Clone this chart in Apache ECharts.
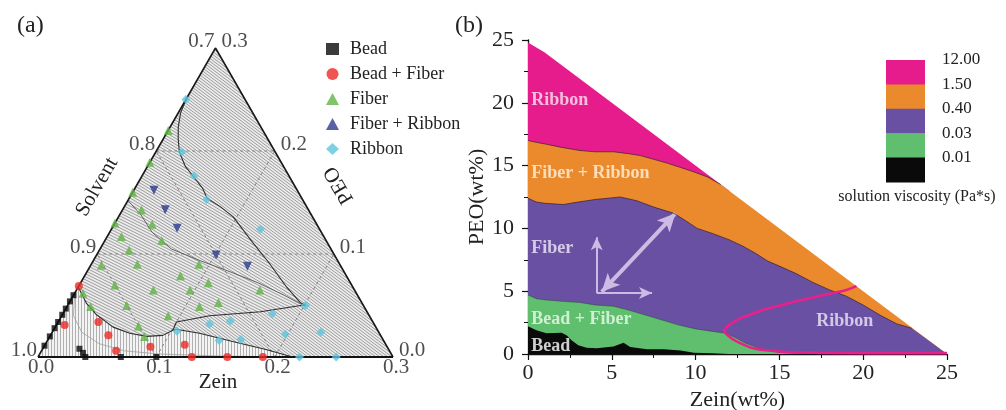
<!DOCTYPE html>
<html>
<head>
<meta charset="utf-8">
<script src="https://cdn.jsdelivr.net/npm/echarts@6/dist/echarts.min.js"></script>
<style>
  html, body { margin: 0; padding: 0; background: #fff; }
  #chart { width: 1006px; height: 410px; }
</style>
</head>
<body>
<div id="chart"></div>
<script>
// ===== (a) Ternary phase diagram: every point is [Zein, PEO] mass fraction (Solvent = 1 - Zein - PEO)
const bead = [
  [0, 0.011], [0, 0.020], [0, 0.028], [0, 0.034], [0, 0.041], [0, 0.047], [0, 0.054], [0, 0.060],
  [0.031, 0.008], [0.036, 0.004], [0.040, 0], [0.070, 0], [0.100, 0]
];
const beadFiber = [
  [0, 0.069], [0.007, 0.031], [0.034, 0.034], [0.049, 0.021], [0.063, 0.006],
  [0.090, 0.010], [0.118, 0.012], [0.130, 0], [0.160, 0], [0.190, 0]
];
const fiber = [
  [0, 0.220], [0, 0.189], [0, 0.160], [0, 0.130], [0.016, 0.143], [0.032, 0.129], [0.012, 0.117],
  [0.048, 0.113], [0.025, 0.104], [0.009, 0.089], [0.039, 0.090], [0.007, 0.062], [0.030, 0.070],
  [0.065, 0.065], [0.081, 0.079], [0.091, 0.090], [0.096, 0.065], [0.108, 0.072], [0.050, 0.050],
  [0.090, 0.040], [0.112, 0.049], [0.126, 0.053], [0.070, 0.030], [0.080, 0.020], [0.155, 0.065],
  [0.020, 0.049]
];
const fiberRibbon = [
  [0.017, 0.162], [0.036, 0.143], [0.055, 0.125], [0.101, 0.099], [0.133, 0.088]
];
const ribbon = [
  [0, 0.250], [0.022, 0.199], [0.044, 0.176], [0.066, 0.153], [0.126, 0.124], [0.201, 0.050],
  [0.177, 0.042], [0.145, 0.035], [0.129, 0.032], [0.105, 0.025], [0.145, 0.016], [0.163, 0.017],
  [0.198, 0.022], [0.227, 0.024], [0.221, 0], [0.252, 0]
];

// Phase boundaries in [Zein, PEO]
const ribbonEdge = [
  [0, 0.251], [0.002, 0.237], [0.007, 0.223], [0.013, 0.211], [0.020, 0.199], [0.032, 0.185],
  [0.044, 0.175], [0.057, 0.164], [0.066, 0.154], [0.081, 0.146], [0.097, 0.136], [0.126, 0.111],
  [0.150, 0.091], [0.176, 0.068], [0.195, 0.053], [0.201, 0.050]
];
const fiberRibbonEdge = [
  [0, 0.152], [0.018, 0.138], [0.036, 0.121], [0.060, 0.105], [0.089, 0.094], [0.123, 0.082],
  [0.150, 0.072], [0.178, 0.060], [0.195, 0.052], [0.201, 0.050]
];
const fiberLowerEdge = [
  [0, 0.068], [0.015, 0.052], [0.029, 0.041], [0.049, 0.029], [0.066, 0.023], [0.082, 0.020],
  [0.095, 0.021], [0.101, 0.026]
];
const wedgeUpper = [
  [0.101, 0.026], [0.100, 0.034], [0.125, 0.040], [0.166, 0.044], [0.197, 0.050], [0.201, 0.050]
];
const wedgeLower = [
  [0.101, 0.026], [0.103, 0.027], [0.125, 0.023], [0.157, 0.015], [0.190, 0.007], [0.215, 0]
];
const beadEdge = [
  [0, 0.062], [0.010, 0.040], [0.025, 0.024], [0.045, 0.013], [0.070, 0.006], [0.100, 0.003],
  [0.150, 0.001], [0.210, 0]
];

const legendNames = ['Bead', 'Bead + Fiber', 'Fiber', 'Fiber + Ribbon', 'Ribbon'];
const ternaryTicks = [0, 0.1, 0.2, 0.3];
const zeinTickText = ['0.0', '0.1', '0.2', '0.3'];
const solventTickText = ['1.0', '0.9', '0.8', '0.7'];
const peoTickText = ['0.0', '0.1', '0.2', '0.3'];

// ===== (b) Processing map: upper boundary [Zein wt%, PEO wt%] of each viscosity band
const ribbonTop = [[0, 24.8], [1, 24.0], [12, 13.0]];
const fiberRibbonTop = [
  [0, 17.0], [0.5, 16.85], [1.1, 16.7], [2, 16.45], [3.1, 16.2], [4, 16.1], [5.1, 16.1], [6, 15.95],
  [6.7, 15.8], [7.5, 15.5], [8.3, 15.2], [9.1, 14.85], [9.9, 14.5], [10.7, 14.1], [11.5, 13.5]
];
const fiberTop = [
  [0, 12.4], [0.5, 12.1], [1, 12.0], [2.1, 11.9], [3, 12.1], [4, 12.3], [5.5, 12.5], [6.5, 12.2],
  [7.5, 11.7], [8.7, 11.2], [9.3, 10.7], [10.1, 10.0], [11, 9.6], [12, 9.1], [12.8, 8.6], [13.6, 8.0],
  [14.3, 7.4], [15, 7.0], [16, 6.4], [17, 5.7], [18, 5.1], [19, 4.6], [20, 3.9], [21, 3.1], [22, 2.4],
  [22.9, 2.05]
];
const beadFiberTop = [
  [0, 4.7], [0.5, 4.4], [1.1, 4.3], [2, 4.2], [3.1, 4.1], [4, 3.9], [5.1, 3.8], [6, 3.5], [7, 3.1],
  [8, 2.7], [9, 2.3], [10, 2.0], [11, 1.8], [11.8, 1.65], [12.3, 1.35], [13, 0.85], [14, 0.35],
  [15, 0.12], [16, 0.05], [17, 0]
];
const beadTop = [
  [0, 2.2], [0.5, 1.9], [1.1, 1.65], [2, 1.7], [2.3, 1.5], [2.6, 1.1], [3, 0.7], [3.5, 0.5],
  [4.1, 0.45], [5.1, 0.6], [5.7, 0.9], [6.1, 0.55], [7.1, 0.37], [8.1, 0.37], [9.1, 0.27],
  [9.9, 0.1], [11, 0.05], [12, 0]
];
// composition limit: Zein + PEO = 25 wt%
const limitEnd = [25, 0];
const ribbonZone = [
  [19.6, 5.4], [19, 5.1], [18, 4.8], [17, 4.5], [16, 4.2], [15, 3.85], [14, 3.5], [13.2, 3.1],
  [12.6, 2.8], [12, 2.3], [11.7, 1.85], [12, 1.4], [12.45, 1.0], [13.45, 0.45], [15, 0.2],
  [17, 0.1], [20, 0.07], [25, 0.07]
];
// arrows: [start, end, double-headed]
const arrowsB = [
  [[4.1, 4.85], [4.1, 9.3], false],
  [[4.1, 4.85], [7.4, 4.85], false],
  [[4.4, 4.95], [8.8, 11.2], true]
];
const regionLabels = [
  [0.2, 20.2, 'Ribbon', '#fbe6f1'],
  [0.2, 14.4, 'Fiber + Ribbon', '#fff1de'],
  [0.2, 8.4, 'Fiber', '#efe8fb'],
  [0.2, 2.76, 'Bead + Fiber', '#eefbee'],
  [0.2, 0.6, 'Bead', '#ffffff'],
  [17.2, 2.6, 'Ribbon', '#efe6fa']
];
const viscosityLevels = ['12.00', '1.50', '0.40', '0.03', '0.01'];
const bandColors = ['#e61c8c', '#ea8a2c', '#6a50a2', '#5fbf6f', '#0a0a0a'];

// ----------------------------------------------------------------------------
const FONT = '"Liberation Serif", "Times New Roman", serif';

// Ternary [Zein, PEO] -> plane [Zein + PEO/2, PEO]; the grid is sized as an equilateral triangle
const toXY = (q) => [q[0] + q[1] / 2, q[1]];

function hatch(w, h, bg, fg, vertical) {
  const c = document.createElement('canvas');
  c.width = w; c.height = h;
  const g = c.getContext('2d');
  g.fillStyle = bg; g.fillRect(0, 0, w, h);
  g.strokeStyle = fg; g.lineWidth = 1;
  g.beginPath();
  if (vertical) {
    g.moveTo(0.5, 0); g.lineTo(0.5, h);
  } else {
    for (let k = -2; k <= 2; k++) {
      g.moveTo(-w, k * h - h);
      g.lineTo(2 * w, k * h + 2 * h);
    }
  }
  g.stroke();
  return { image: c, repeat: 'repeat' };
}

const patFiber = hatch(6, 3, '#ececec', '#9c9c9c', false);
const patRibbon = hatch(4, 3, '#ececec', '#9c9c9c', false);
const patFR = hatch(5, 3, '#ececec', '#9c9c9c', false);
const patBead = hatch(3, 1, '#f4f4f4', '#b0b0b0', true);

const BL = [0, 0], BR = [0.3, 0], TOP = [0, 0.3];
const rev = (a) => a.slice().reverse();
const regions = [
  { pts: [BL, BR, TOP], fill: patFiber },
  {
    pts: [ribbonEdge[0], TOP, BR].concat(rev(wedgeLower).slice(0, -1), wedgeUpper.slice(1), rev(ribbonEdge)),
    fill: patRibbon
  },
  { pts: [fiberRibbonEdge[0], ribbonEdge[0]].concat(ribbonEdge, rev(fiberRibbonEdge)), fill: patFR },
  { pts: [BL].concat(fiberLowerEdge, wedgeLower.slice(1), [BL]), fill: patBead }
];

const series = [];

series.push({
  type: 'custom',
  coordinateSystem: 'cartesian2d',
  xAxisIndex: 0, yAxisIndex: 0,
  silent: true, z: 1,
  data: regions.map(() => [0, 0]),
  renderItem: (params, api) => {
    const r = regions[params.dataIndex];
    return {
      type: 'polygon',
      shape: { points: r.pts.map((q) => api.coord(toXY(q))) },
      style: { fill: r.fill, stroke: null }
    };
  }
});

function tline(pts, style, z) {
  series.push({
    type: 'line', xAxisIndex: 0, yAxisIndex: 0, silent: true, z: z,
    data: pts.map(toXY), showSymbol: false, symbol: 'none',
    lineStyle: style
  });
}

// dashed composition grid
const dash = { color: '#6f6f6f', width: 0.8, type: [3, 3] };
[0.1, 0.2].forEach((v) => {
  tline([[0, v], [0.3 - v, v]], dash, 2);      // PEO constant
  tline([[v, 0], [v, 0.3 - v]], dash, 2);      // Zein constant
  tline([[v, 0], [0, v]], dash, 2);            // Solvent constant
});

// phase boundaries
const edgeStyle = { color: '#2e2e2e', width: 1.1 };
tline(ribbonEdge, edgeStyle, 3);
tline(fiberRibbonEdge, { color: '#555', width: 0.9 }, 3);
tline(fiberLowerEdge, edgeStyle, 3);
tline(wedgeUpper, edgeStyle, 3);
tline(wedgeLower, edgeStyle, 3);
tline(beadEdge, { color: '#a0a0a0', width: 0.8 }, 3);

// frame
tline([BL, TOP, BR], { color: '#1a1a1a', width: 1.6 }, 4);
tline([BL, BR], { color: '#111', width: 2.2 }, 4);

// measured compositions
const markerDefs = [
  { name: 'Bead', data: bead, symbol: 'rect', size: 6, color: '#0a0a0a' },
  { name: 'Bead + Fiber', data: beadFiber, symbol: 'circle', size: 8, color: '#ec2b26' },
  { name: 'Fiber', data: fiber, symbol: 'triangle', size: 9, color: '#62b445' },
  { name: 'Fiber + Ribbon', data: fiberRibbon, symbol: 'triangle', size: 9, color: '#2c3b8f', rotate: 180 },
  { name: 'Ribbon', data: ribbon, symbol: 'diamond', size: 9, color: '#5ec6de' }
];
markerDefs.forEach((m) => {
  series.push({
    name: m.name, type: 'scatter', xAxisIndex: 0, yAxisIndex: 0, z: 5,
    symbol: m.symbol, symbolSize: m.size, symbolRotate: m.rotate || 0,
    itemStyle: { color: m.color },
    data: m.data.map(toXY)
  });
});

// ternary tick labels
function tickLabels(pts, texts, label) {
  series.push({
    type: 'scatter', xAxisIndex: 0, yAxisIndex: 0, z: 6, silent: true,
    symbolSize: 0,
    data: pts.map((q, i) => toXY(q).concat([texts[i]])),
    label: Object.assign({
      show: true, formatter: (p) => p.data[2],
      fontFamily: FONT, fontSize: 21, color: '#222'
    }, label)
  });
}
tickLabels(ternaryTicks.map((v) => [v, 0]), zeinTickText, { position: 'bottom', distance: 0, offset: [3, 0] });
tickLabels(ternaryTicks.map((v) => [0, v]), solventTickText, { position: 'left', distance: 1, offset: [0, -7] });
tickLabels(ternaryTicks.map((v) => [0.3 - v, v]), peoTickText, { position: 'right', distance: 6, offset: [0, -7] });

// ===== (b) viscosity bands, drawn back to front; upper bands are closed along the 25 wt% limit
const bands = [ribbonTop, fiberRibbonTop, fiberTop, beadFiberTop, beadTop];
bands.forEach((b, i) => {
  series.push({
    type: 'line', xAxisIndex: 1, yAxisIndex: 1, silent: true, z: 2 + i,
    data: (i === 1 || i === 2) ? b.concat([limitEnd]) : b,
    showSymbol: false, symbol: 'none', smooth: false,
    lineStyle: { width: 0 },
    areaStyle: { color: bandColors[i], opacity: 1 }
  });
});
// dark outlines between bands
[fiberRibbonTop, fiberTop, beadFiberTop].forEach((b, i) => {
  series.push({
    type: 'line', xAxisIndex: 1, yAxisIndex: 1, silent: true, z: 8,
    data: b, showSymbol: false, symbol: 'none', smooth: false,
    lineStyle: { color: i === 2 ? 'rgba(40,60,45,0.55)' : 'rgba(40,25,45,0.8)', width: 0.8 }
  });
});

series.push({
  type: 'line', xAxisIndex: 1, yAxisIndex: 1, silent: true, z: 9,
  data: ribbonZone, showSymbol: false, symbol: 'none', smooth: 0.35,
  lineStyle: { color: '#e8208c', width: 2.6 }
});

series.push({
  type: 'line', xAxisIndex: 1, yAxisIndex: 1, silent: true, z: 10,
  data: [], showSymbol: false,
  markLine: {
    silent: true, animation: false, label: { show: false },
    data: arrowsB.map((a) => [
      { coord: a[0], symbol: a[2] ? 'arrow' : 'none', symbolSize: a[2] ? [13, 18] : [9, 13],
        lineStyle: { color: '#cdbbe4', width: a[2] ? 4 : 2, type: 'solid' } },
      { coord: a[1], symbol: 'arrow', symbolSize: a[2] ? [13, 18] : [9, 13] }
    ])
  }
});

series.push({
  type: 'scatter', xAxisIndex: 1, yAxisIndex: 1, silent: true, z: 11,
  symbolSize: 0,
  data: regionLabels.map((r) => ({ value: [r[0], r[1], r[2]], label: { color: r[3] } })),
  label: {
    show: true, position: 'right', distance: 0,
    formatter: (p) => p.data.value[2],
    fontFamily: FONT, fontSize: 18, fontWeight: 'bold'
  }
});

// ----------------------------------------------------------------------------
const axisText = { fontFamily: FONT, fontSize: 22, color: '#222' };
const graphic = [
  { type: 'text', left: 17, top: 14, style: { text: '(a)', font: '24px ' + FONT, fill: '#222' } },
  { type: 'text', left: 455, top: 14, style: { text: '(b)', font: '24px ' + FONT, fill: '#222' } },
  { type: 'text', x: 97, y: 187, rotation: Math.PI / 3,
    style: { text: 'Solvent', font: '21px ' + FONT, fill: '#222', align: 'center', verticalAlign: 'middle' } },
  { type: 'text', x: 339, y: 185, rotation: Math.PI * 2 / 3,
    style: { text: 'PEO', font: '21px ' + FONT, fill: '#222', align: 'center', verticalAlign: 'middle' } },
  { type: 'text', x: 218, y: 382,
    style: { text: 'Zein', font: '21px ' + FONT, fill: '#222', align: 'center', verticalAlign: 'middle' } },
  { type: 'text', x: 917, y: 197,
    style: { text: 'solution viscosity (Pa*s)', font: '16px ' + FONT, fill: '#222', align: 'center', verticalAlign: 'middle' } }
];
const barX = 886, barW = 39, barTop = 60, bandH = 24.4;
bandColors.forEach((c, i) => {
  graphic.push({ type: 'rect', shape: { x: barX, y: barTop + i * bandH, width: barW, height: bandH + 0.5 },
    style: { fill: c } });
});
viscosityLevels.forEach((t, i) => {
  graphic.push({ type: 'text', x: 942, y: barTop + i * bandH,
    style: { text: t, font: '17px ' + FONT, fill: '#222', align: 'left', verticalAlign: 'middle' } });
});

const option = {
  animation: false,
  backgroundColor: '#fff',
  grid: [
    { left: 38, top: 48, width: 355, height: 309, outerBoundsMode: 'none', containLabel: false },
    { left: 528, top: 40, right: 59, bottom: 56, outerBoundsMode: 'none', containLabel: false }
  ],
  xAxis: [
    { gridIndex: 0, type: 'value', min: 0, max: 0.3, show: false },
    {
      gridIndex: 1, type: 'value', min: 0, max: 25, interval: 5,
      name: 'Zein(wt%)', nameLocation: 'middle', nameGap: 32, nameTextStyle: axisText,
      axisLine: { lineStyle: { color: '#111', width: 1.3 } },
      axisTick: { length: 6, lineStyle: { color: '#111', width: 1.2 } },
      minorTick: { show: true, splitNumber: 2, length: 4, lineStyle: { color: '#111', width: 1 } },
      splitLine: { show: false },
      axisLabel: Object.assign({ margin: 8 }, axisText)
    }
  ],
  yAxis: [
    { gridIndex: 0, type: 'value', min: 0, max: 0.3, show: false },
    {
      gridIndex: 1, type: 'value', min: 0, max: 25, interval: 5,
      name: 'PEO(wt%)', nameLocation: 'middle', nameGap: 35, nameTextStyle: axisText,
      axisLine: { show: true, lineStyle: { color: '#111', width: 1.3 } },
      axisTick: { show: true, length: 6, lineStyle: { color: '#111', width: 1.2 } },
      minorTick: { show: true, splitNumber: 2, length: 4, lineStyle: { color: '#111', width: 1 } },
      splitLine: { show: false },
      axisLabel: Object.assign({ margin: 14 }, axisText)
    }
  ],
  legend: {
    data: legendNames, orient: 'vertical', left: 321, top: 35,
    itemWidth: 13, itemHeight: 12, itemGap: 7,
    textStyle: { fontFamily: FONT, fontSize: 18, color: '#222', padding: [0, 0, 0, 6] },
    selectedMode: false
  },
  graphic: graphic,
  series: series
};

const chart = echarts.init(document.getElementById('chart'), null, { renderer: 'canvas' });
chart.setOption(option);
</script>
</body>
</html>
